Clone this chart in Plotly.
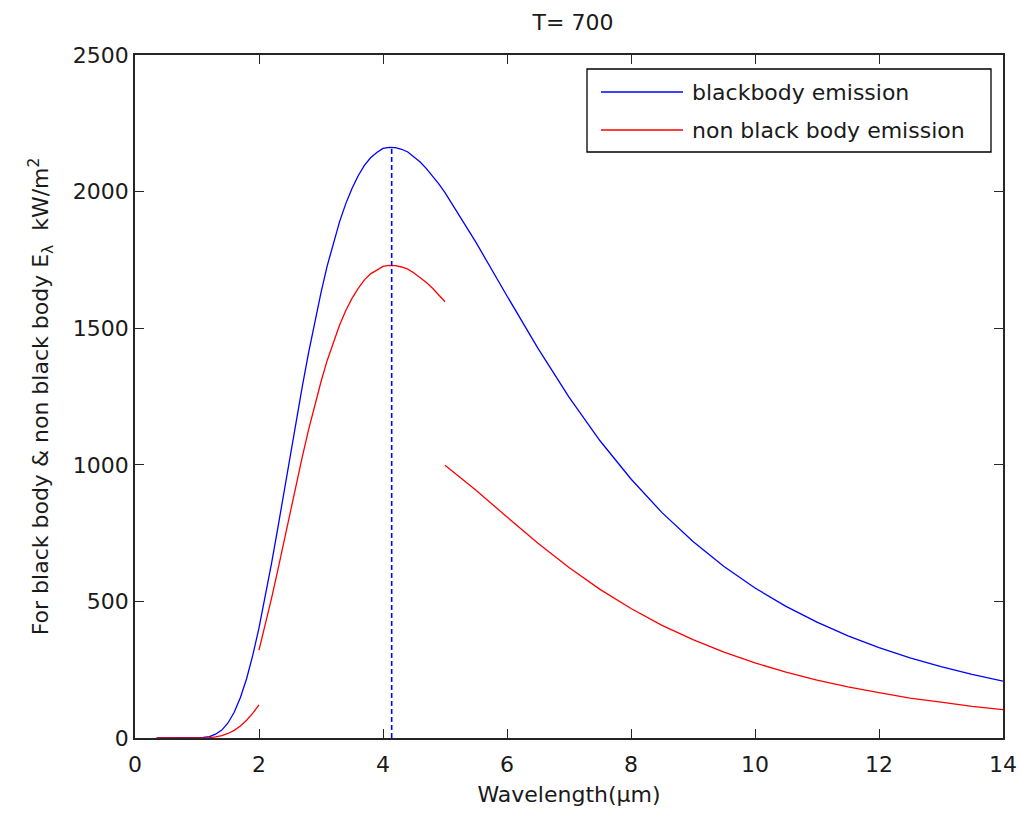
import plotly.graph_objects as go

# ---- data ----
wl_black = [0.35, 0.6, 0.8, 1.0, 1.1, 1.2, 1.3, 1.4, 1.5, 1.6, 1.7, 1.8, 1.9, 2.0,
            2.1, 2.2, 2.3, 2.4, 2.5, 2.6, 2.7, 2.8, 2.9, 3.0, 3.1, 3.2, 3.3, 3.4, 3.5,
            3.6, 3.7, 3.8, 3.9, 4.0, 4.1, 4.2, 4.3, 4.4, 4.5, 4.6, 4.7, 4.8, 4.9, 5.0,
            5.5, 6.0, 6.5, 7.0, 7.5, 8.0, 8.5, 9.0, 9.5, 10.0, 10.5, 11.0, 11.5, 12.0,
            12.5, 13.0, 13.5, 14.0]
e_black = [0, 0, 0, 0.4, 1.8, 5, 14, 29, 55, 94, 148, 217, 303, 403,
           514, 636, 764, 897, 1029, 1162, 1289, 1411, 1525, 1630, 1728, 1814, 1890, 1956, 2011,
           2058, 2096, 2124, 2143, 2158, 2162, 2161, 2155, 2145, 2128, 2108, 2084, 2057, 2028, 1996,
           1814, 1618, 1426, 1248, 1088, 948, 825, 719, 628, 549, 482, 424, 374, 331,
           293, 261, 233, 208]

wl_red1 = [0.35, 0.6, 0.8, 1.0, 1.1, 1.2, 1.3, 1.4, 1.5, 1.6, 1.7, 1.8, 1.9, 2.0]
e_red1 = [0, 0, 0, 0.1, 0.5, 1.5, 4.1, 8.8, 16.6, 28, 44, 65, 91, 121]

wl_red2 = [2.0, 2.1, 2.2, 2.3, 2.4, 2.5, 2.6, 2.7, 2.8, 2.9, 3.0, 3.1, 3.2, 3.3, 3.4,
           3.5, 3.6, 3.7, 3.8, 3.9, 4.0, 4.1, 4.2, 4.3, 4.4, 4.5, 4.6, 4.7, 4.8, 4.9, 5.0]
e_red2 = [322, 411, 509, 611, 718, 823, 930, 1031, 1129, 1220, 1304, 1382, 1451, 1512, 1565,
          1609, 1646, 1677, 1699, 1714, 1726, 1730, 1729, 1724, 1716, 1702, 1686, 1667, 1646,
          1622, 1597]

wl_red3 = [5.0, 5.5, 6.0, 6.5, 7.0, 7.5, 8.0, 8.5, 9.0, 9.5, 10.0, 10.5, 11.0, 11.5,
           12.0, 12.5, 13.0, 13.5, 14.0]
e_red3 = [998, 907, 809, 713, 624, 544, 474, 412, 360, 314, 275, 241, 212, 187,
          166, 146, 131, 116, 104]

wl_peak = [4.14, 4.14]
e_peak = [0, 2162]

x_ticks = [0, 2, 4, 6, 8, 10, 12, 14]
y_ticks = [0, 500, 1000, 1500, 2000, 2500]

legend_labels = ["blackbody emission", "non black body emission"]
title_text = "T= 700"

BLUE = "#0000ff"
RED = "#ff0000"
FONT = "DejaVu Sans"
TXT = "#1a1a1a"

fig = go.Figure()
fig.add_trace(go.Scatter(x=wl_black, y=e_black, mode="lines", name=legend_labels[0],
                         line=dict(color=BLUE, width=1.3), showlegend=False))
for wx, wy in [(wl_red1, e_red1), (wl_red2, e_red2), (wl_red3, e_red3)]:
    fig.add_trace(go.Scatter(x=wx, y=wy, mode="lines", name=legend_labels[1],
                             line=dict(color=RED, width=1.3), showlegend=False))
fig.add_trace(go.Scatter(x=wl_peak, y=e_peak, mode="lines", showlegend=False,
                         line=dict(color=BLUE, width=1.6, dash="5px,3px")))

W, H = 1020, 817
L, R, T, B = 135, 17, 55, 79
pw, ph = W - L - R, H - T - B


def px(x):
    return (x - L) / pw


def py(y):
    return (H - B - y) / ph


# manual MATLAB-style legend
fig.add_shape(type="rect", xref="paper", yref="paper", x0=px(587), x1=px(991),
              y0=py(152), y1=py(69), line=dict(color="black", width=1.3),
              fillcolor="white", layer="above")
for i, (col, yy) in enumerate([(BLUE, 92), (RED, 130)]):
    fig.add_shape(type="line", xref="paper", yref="paper", x0=px(601), x1=px(683),
                  y0=py(yy), y1=py(yy), line=dict(color=col, width=1.3), layer="above")
    fig.add_annotation(xref="paper", yref="paper", x=px(690), y=py(yy),
                       text=legend_labels[i], showarrow=False, xanchor="left",
                       yanchor="middle", font=dict(family=FONT, size=22, color=TXT))

axis_common = dict(showgrid=False, zeroline=False, ticks="inside", ticklen=9,
                   tickwidth=1.3, tickcolor="#262626", showline=True, linecolor="#262626",
                   linewidth=1.5, mirror="ticks", automargin=False,
                   tickfont=dict(family=FONT, size=22, color=TXT))

fig.update_layout(
    width=W, height=H,
    margin=dict(l=L, r=R, t=T, b=B, autoexpand=False),
    paper_bgcolor="white", plot_bgcolor="white",
    title=dict(text=title_text, x=573 / W, xanchor="center",
               y=1 - 22 / H, yanchor="middle", yref="container",
               font=dict(family=FONT, size=22, color=TXT)),
    xaxis=dict(range=[0, 14], tickvals=x_ticks, ticktext=[str(v) for v in x_ticks],
               ticklabelstandoff=6,
               title=dict(text="Wavelength(\u03bcm)", standoff=10,
                          font=dict(family=FONT, size=22, color=TXT)),
               **axis_common),
    yaxis=dict(range=[0, 2500], tickvals=y_ticks, ticktext=[str(v) for v in y_ticks],
               title=dict(text="For black body &amp; non black body E<sub>\u03bb</sub>  kW/m<sup>2</sup>",
                          standoff=18,
                          font=dict(family=FONT, size=22, color=TXT)),
               **axis_common),
)

fig.write_html("out.html")
